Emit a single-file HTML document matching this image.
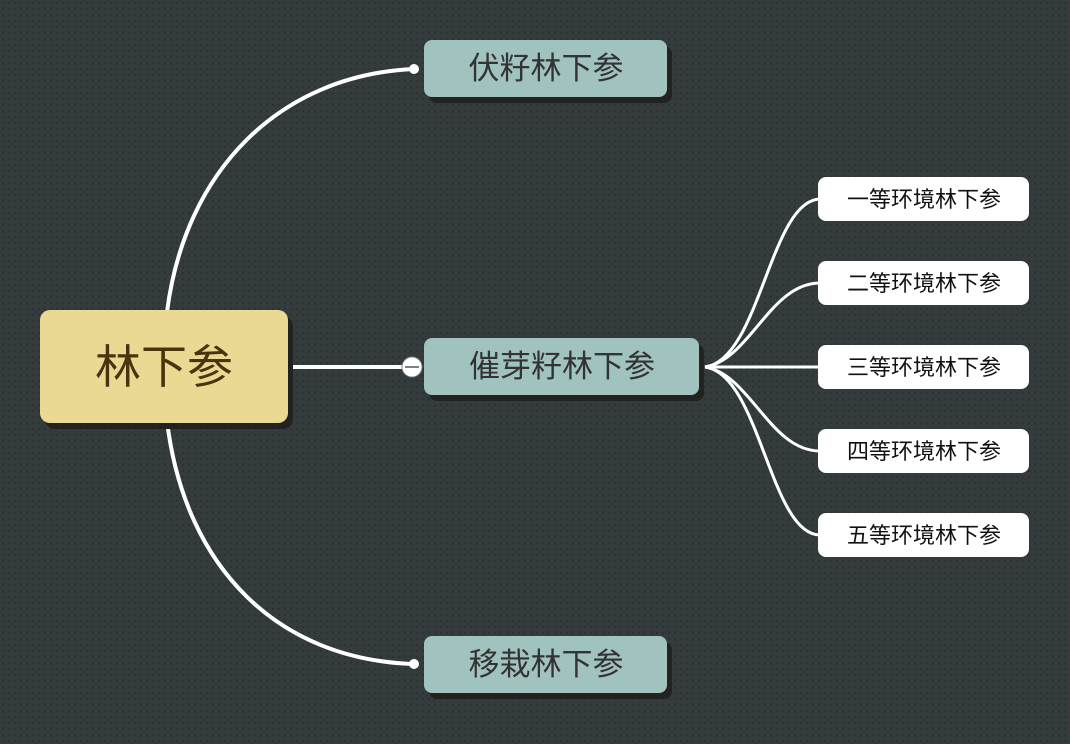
<!DOCTYPE html>
<html><head><meta charset="utf-8"><style>
body{margin:0;width:1070px;height:744px;overflow:hidden;background:#343b3d;}
svg{display:block}
text{font-family:"Liberation Sans","Noto Sans CJK SC",sans-serif;}
</style></head><body>
<svg width="1070" height="744" viewBox="0 0 1070 744">
<defs>
<pattern id="dots" width="6" height="6" patternUnits="userSpaceOnUse"><rect width="6" height="6" fill="#343b3d"/><rect x="2" y="2" width="2" height="2" fill="#2c3234"/></pattern>
</defs>
<rect width="1070" height="744" fill="url(#dots)"/>
<g fill="none" stroke="#fff" stroke-width="4">
<path d="M167 312 C185 170 280 75 414 69"/>
<path d="M167 421 C185 570 280 660 414 664"/>
<path d="M288 367 L412 367"/>
</g>
<g fill="none" stroke="#fff" stroke-width="3">
<path d="M705 367 C760 360 770 200 820 199"/>
<path d="M705 367 C750 360 770 283 820 283"/>
<path d="M705 367 L820 367"/>
<path d="M705 367 C750 374 770 451 820 451"/>
<path d="M705 367 C760 374 770 535 820 535"/>
</g>
<circle cx="414" cy="69" r="5" fill="#fff"/>
<circle cx="414" cy="664" r="5" fill="#fff"/>
<circle cx="412" cy="367" r="10" fill="#fff" stroke="#888" stroke-width="1"/>
<line x1="405" y1="367" x2="419" y2="367" stroke="#555" stroke-width="1.5"/>
<g fill="#222">
<rect x="45" y="316" width="248" height="113" rx="10"/>
<rect x="429" y="46" width="243" height="57" rx="8"/>
<rect x="429" y="344" width="275" height="57" rx="8"/>
<rect x="429" y="642" width="243" height="57" rx="8"/>
</g>
<rect x="40" y="310" width="248" height="113" rx="10" fill="#e9d993"/>
<rect x="424" y="40" width="243" height="57" rx="8" fill="#a0c3bf"/>
<rect x="424" y="338" width="275" height="57" rx="8" fill="#a0c3bf"/>
<rect x="424" y="636" width="243" height="57" rx="8" fill="#a0c3bf"/>
<g fill="#fff">
<rect x="818" y="177" width="211" height="44" rx="8"/>
<rect x="818" y="261" width="211" height="44" rx="8"/>
<rect x="818" y="345" width="211" height="44" rx="8"/>
<rect x="818" y="429" width="211" height="44" rx="8"/>
<rect x="818" y="513" width="211" height="44" rx="8"/>
</g>
<text x="164" y="383" font-size="46" fill="#4a3410" text-anchor="middle">林下参</text>
<g font-size="31" fill="#333" text-anchor="middle">
<text x="546" y="79">伏籽林下参</text>
<text x="562" y="377">催芽籽林下参</text>
<text x="546" y="675">移栽林下参</text>
</g>
<g font-size="22" fill="#111" text-anchor="middle">
<text x="924" y="207">一等环境林下参</text>
<text x="924" y="291">二等环境林下参</text>
<text x="924" y="375">三等环境林下参</text>
<text x="924" y="459">四等环境林下参</text>
<text x="924" y="543">五等环境林下参</text>
</g>
</svg>
</body></html>
